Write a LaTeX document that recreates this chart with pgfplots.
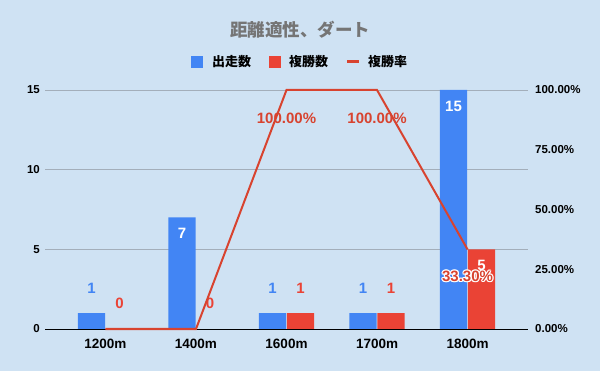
\documentclass[border=0pt]{standalone}
\usepackage{pgfplots}
\pgfplotsset{compat=1.18}
\usepackage{fontspec}
\setmainfont{Liberation Sans}
\newfontfamily\cjk{Noto Sans CJK JP}
\usepackage{contour}
\contourlength{1.2pt}
\contournumber{8}
\definecolor{bg}{HTML}{CFE2F3}
\definecolor{blueA}{HTML}{4285F4}
\definecolor{redA}{HTML}{EA4335}
\definecolor{lineA}{HTML}{D8432F}
\definecolor{titlegray}{HTML}{757575}
\definecolor{gridgray}{HTML}{A3AEBA}
\begin{document}
\begin{tikzpicture}
\fill[bg] (0bp,0bp) rectangle (600bp,371bp);
\node[font=\cjk\bfseries\fontsize{17.5bp}{20bp}\selectfont, text=titlegray] at (300bp,341bp) {距離適性、ダート};
% legend
\begin{scope}[every node/.style={font=\cjk\bfseries\fontsize{13bp}{15bp}\selectfont, anchor=west, inner sep=0pt}]
\fill[blueA] (191bp,303bp) rectangle (203bp,315bp);
\node at (212bp,309bp) {出走数};
\fill[redA] (269bp,303bp) rectangle (281bp,315bp);
\node at (289bp,309bp) {複勝数};
\fill[lineA] (347bp,307.5bp) rectangle (359bp,310.5bp);
\node at (368bp,309bp) {複勝率};
\end{scope}
\begin{axis}[
  at={(45bp,42bp)}, anchor=south west, scale only axis, width=483bp, height=239bp,
  xmin=-0.668, xmax=4.668, ymin=0, ymax=15,
  xtick={0,1,2,3,4}, xticklabels={1200m,1400m,1600m,1700m,1800m},
  ytick={0,5,10,15}, yticklabels={0,5,10,15},
  ymajorgrids, grid style={gridgray, line width=0.8bp},
  axis line style={draw=none},
  major tick length=0pt,
  xticklabel style={font=\bfseries\fontsize{13.5bp}{15bp}\selectfont, inner sep=0pt, yshift=-10bp},
  yticklabel style={font=\bfseries\fontsize{11.5bp}{13bp}\selectfont, inner sep=0pt, xshift=-5bp},
  ybar, bar width=0.3,
  clip=false,
]
\addplot[fill=blueA, draw=none, bar shift=-0.155]
  coordinates {(0,1) (1,7) (2,1) (3,1) (4,15)};
\addplot[fill=redA, draw=none, bar shift=0.155]
  coordinates {(0,0) (1,0) (2,1) (3,1) (4,5)};
\draw[black, line width=0.9bp] (rel axis cs:0,0) -- (rel axis cs:1,0);
% value labels
\begin{scope}[every node/.style={font=\bfseries\fontsize{15bp}{17bp}\selectfont}]
\node[text=blueA] at (axis cs:-0.155,2.57) {1};
\node[text=redA] at (axis cs:0.155,1.63) {0};
\node[text=white] at (axis cs:0.845,6.03) {7};
\node[text=redA] at (axis cs:1.155,1.63) {0};
\node[text=blueA] at (axis cs:1.845,2.57) {1};
\node[text=redA] at (axis cs:2.155,2.57) {1};
\node[text=blueA] at (axis cs:2.845,2.57) {1};
\node[text=redA] at (axis cs:3.155,2.57) {1};
\node[text=white] at (axis cs:3.845,14.0) {15};
\node[text=white] at (axis cs:4.155,4.02) {5};
\end{scope}
\end{axis}
\begin{axis}[
  at={(45bp,42bp)}, anchor=south west, scale only axis, width=483bp, height=239bp,
  xmin=-0.668, xmax=4.668, ymin=0, ymax=100,
  axis line style={draw=none},
  xtick=\empty,
  ytick pos=right,
  major tick length=0pt,
  ytick={0,25,50,75,100}, yticklabels={0.00\%,25.00\%,50.00\%,75.00\%,100.00\%},
  yticklabel style={font=\bfseries\fontsize{11.5bp}{13bp}\selectfont, inner sep=0pt, xshift=7bp},
  clip=false,
]
\addplot[lineA, line width=2bp, mark=none] coordinates {(0,0) (1,0) (2,100) (3,100) (4,33.3)};
\begin{scope}[every node/.style={font=\bfseries\fontsize{15bp}{17bp}\selectfont, text=lineA}]
\node at (axis cs:2,88.3) {100.00\%};
\node at (axis cs:3,88.3) {100.00\%};
\node at (axis cs:4,21.8) {\contour{white}{33.30\%}};
\end{scope}
\end{axis}
\end{tikzpicture}
\end{document}
